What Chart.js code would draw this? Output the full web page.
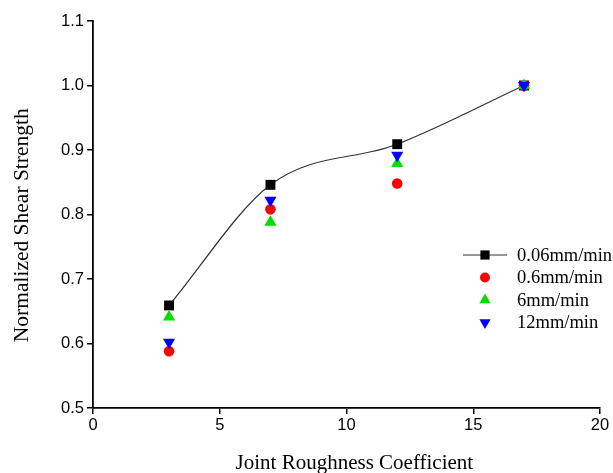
<!DOCTYPE html>
<html><head><meta charset="utf-8">
<script src="https://cdn.jsdelivr.net/npm/chart.js@4/dist/chart.umd.min.js"></script>
<style>html,body{margin:0;padding:0;background:#fff}#wrap{width:613px;height:473px;position:relative}</style>
</head><body><div id="wrap"><canvas id="c" width="613" height="473"></canvas></div>
<script>
const jrc = [3, 7, 12, 17];
const rate006 = [0.659, 0.846, 0.909, 1.000];
const rate06 = [0.588, 0.808, 0.848, 1.000];
const rate6 = [0.641, 0.788, 0.879, 1.000];
const rate12 = [0.602, 0.822, 0.892, 1.000];
const seriesLabels = ['0.06mm/min', '0.6mm/min', '6mm/min', '12mm/min'];
const xTitle = 'Joint Roughness Coefficient';
const yTitle = 'Normalized Shear Strength';

const pts = arr => arr.map((v, i) => ({x: jrc[i], y: v}));

const datasets = [
  {label: seriesLabels[0], data: pts(rate006), showLine: true, borderColor: '#333', borderWidth: 1.2,
   cubicInterpolationMode: 'monotone', pointStyle: 'rect', pointRadius: 7, pointBackgroundColor: '#000', pointBorderColor: '#000', pointBorderWidth: 0, order: 4},
  {label: seriesLabels[1], data: pts(rate06), showLine: false, pointStyle: 'circle', pointRadius: 5.3,
   pointBackgroundColor: '#ff0000', pointBorderColor: '#ff0000', pointBorderWidth: 0, order: 3},
  {label: seriesLabels[2], data: pts(rate6), showLine: false, pointStyle: 'triangle', pointRadius: 7,
   pointBackgroundColor: '#00dd00', pointBorderColor: '#00dd00', pointBorderWidth: 0, order: 2},
  {label: seriesLabels[3], data: pts(rate12), showLine: false, pointStyle: 'triangle', pointRotation: 180, pointRadius: 7,
   pointBackgroundColor: '#0000ff', pointBorderColor: '#0000ff', pointBorderWidth: 0, order: 1}
];

const legendPlugin = {
  id: 'customLegend',
  afterDraw(chart) {
    const ctx = chart.ctx;
    const x0 = 463, yStart = 255, dy = 22.5;
    ctx.save();
    ctx.font = '18.5px "Liberation Serif", "Times New Roman", serif';
    ctx.textBaseline = 'middle';
    chart.data.datasets.forEach((ds, i) => {
      const y = yStart + i * dy;
      const cx = x0 + 22;
      if (ds.showLine) {
        ctx.strokeStyle = ds.borderColor; ctx.lineWidth = 1.2;
        ctx.beginPath(); ctx.moveTo(x0, y); ctx.lineTo(x0 + 44, y); ctx.stroke();
      }
      ctx.fillStyle = ds.pointBackgroundColor;
      ctx.strokeStyle = ds.pointBorderColor;
      Chart.helpers.drawPoint(ctx, {pointStyle: ds.pointStyle, rotation: ds.pointRotation || 0,
        radius: ds.pointStyle === 'circle' ? 5 : 6.5, borderWidth: 0}, cx, y);
      ctx.fillStyle = '#000';
      ctx.fillText(ds.label, 517, y + 1);
    });
    ctx.restore();
  }
};

new Chart(document.getElementById('c'), {
  type: 'scatter',
  data: {datasets},
  options: {
    responsive: false, animation: false, devicePixelRatio: 1,
    layout: {padding: {left: 0, right: 13, top: 21, bottom: 0}},
    plugins: {legend: {display: false}, tooltip: {enabled: false}},
    scales: {
      x: {
        type: 'linear', min: 0, max: 20,
        ticks: {stepSize: 5, color: '#000', font: {family: '"Liberation Sans", Arial, sans-serif', size: 16.5}, padding: 2},
        grid: {drawOnChartArea: false, drawTicks: true, tickLength: 6, color: '#000', lineWidth: 1.5},
        border: {color: '#000', width: 1.8},
        title: {display: true, text: '\u2002 ' + xTitle, color: '#000', font: {family: '"Liberation Serif", "Times New Roman", serif', size: 21}, padding: {top: 4, bottom: -3}},
        afterFit(s) { s.height = 65; }
      },
      y: {
        type: 'linear', min: 0.5, max: 1.1,
        ticks: {stepSize: 0.1, color: '#000', font: {family: '"Liberation Sans", Arial, sans-serif', size: 16.5}, padding: 3,
          callback: v => Number(v).toFixed(1)},
        grid: {drawOnChartArea: false, drawTicks: true, tickLength: 6, color: '#000', lineWidth: 1.5},
        border: {color: '#000', width: 1.8},
        title: {display: true, text: yTitle + '\u2003', color: '#000', font: {family: '"Liberation Serif", "Times New Roman", serif', size: 21.5}, padding: {top: 9, bottom: 0}},
        afterFit(s) { s.width = 93; }
      }
    }
  },
  plugins: [legendPlugin]
});
</script>
</body></html>
